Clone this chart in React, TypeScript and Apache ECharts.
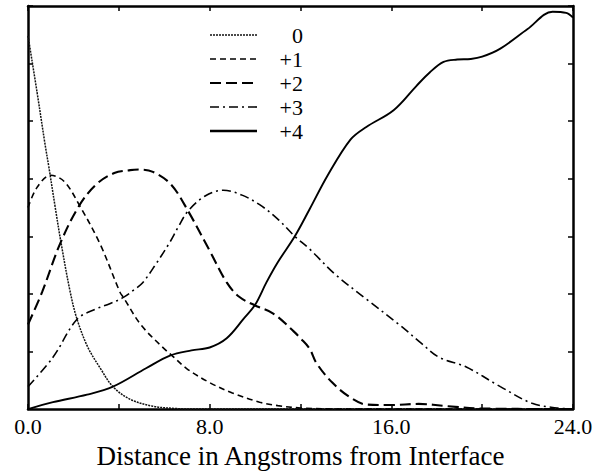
import React, { useEffect, useRef } from "react";
import * as echarts from "echarts";

const seriesNames = ["0", "+1", "+2", "+3", "+4"];

const x0 = [0, 0.4, 0.75, 0.92, 1.2, 1.45, 1.85, 2.16, 2.64, 3.2, 3.74, 4.5, 5.5, 6.5, 7.5, 24];
const y0 = [6.48, 5.5, 4.6, 4.2, 3.5, 2.9, 2.05, 1.56, 1.07, 0.7, 0.39, 0.17, 0.05, 0.01, 0, 0];

const x1 = [0, 0.4, 1.0, 1.6, 2.25, 3.17, 4.05, 4.2, 5.0, 6.1, 6.34, 7.0, 8.0, 9.0, 10.2, 11.0, 12.0, 14, 24];
const y1 = [3.5, 3.85, 4.06, 3.95, 3.55, 2.87, 2.03, 1.94, 1.45, 1.01, 0.93, 0.7, 0.46, 0.28, 0.12, 0.06, 0.02, 0, 0];

const x2 = [0, 0.62, 1.41, 2.25, 3.0, 3.8, 4.5, 4.9, 5.5, 6.3, 7.05, 8.0, 8.75, 9.3, 10.0, 10.8, 11.7, 12.0, 12.4, 12.7, 13.4, 14.2, 14.9, 16.0, 17.2, 18.5, 20, 24];
const y2 = [1.47, 2.03, 2.87, 3.53, 3.9, 4.1, 4.15, 4.16, 4.12, 3.9, 3.44, 2.75, 2.2, 1.95, 1.8, 1.66, 1.35, 1.23, 1.05, 0.8, 0.46, 0.2, 0.08, 0.07, 0.09, 0.05, 0.01, 0];

const x3 = [0, 1.1, 2.16, 3.0, 3.6, 4.2, 4.7, 5.06, 5.6, 6.25, 6.6, 7.05, 7.8, 8.6, 9.4, 10.2, 11.0, 11.75, 12.4, 13.5, 14.9, 16.4, 17.3, 18.1, 19.3, 20.8, 22.2, 23.3, 24];
const y3 = [0.39, 0.9, 1.56, 1.74, 1.83, 1.94, 2.08, 2.2, 2.5, 2.9, 3.15, 3.44, 3.7, 3.8, 3.72, 3.55, 3.3, 3.0, 2.78, 2.35, 1.91, 1.45, 1.15, 0.9, 0.73, 0.39, 0.1, 0.02, 0];

const x4 = [0, 1.1, 2.6, 3.74, 5.2, 6.25, 7.2, 8.0, 8.75, 9.5, 10.0, 10.5, 11.0, 11.75, 12.4, 13.2, 14.2, 14.9, 16.1, 17.1, 17.7, 18.3, 18.9, 19.5, 20.0, 20.8, 22.0, 23.1, 23.7, 24];
const y4 = [0, 0.12, 0.25, 0.39, 0.71, 0.93, 1.02, 1.07, 1.23, 1.57, 1.81, 2.2, 2.55, 3.0, 3.47, 4.06, 4.68, 4.9, 5.19, 5.61, 5.85, 6.03, 6.07, 6.08, 6.12, 6.26, 6.6, 6.9, 6.88, 6.8];

const xTickLabels = ["0.0", "8.0", "16.0", "24.0"];
const xAxisTitle = "Distance in Angstroms from Interface";

const xs = [x0, x1, x2, x3, x4];
const ys = [y0, y1, y2, y3, y4];

const FONT = "'Liberation Serif', 'Times New Roman', serif";

const styles = [
  { width: 1.5, type: [2, 1], color: "#111" },
  { width: 1.6, type: [6, 4], color: "#000" },
  { width: 2.1, type: [11, 5], color: "#000" },
  { width: 1.6, type: [9, 4, 2, 4], color: "#000" },
  { width: 1.9, type: "solid", color: "#000" },
];

export default function App() {
  const ref = useRef<HTMLDivElement>(null);
  useEffect(() => {
    if (!ref.current) return;
    const chart = echarts.init(ref.current, null, { renderer: "svg" });
    const series = seriesNames.map((name, i) => ({
      name,
      type: "line",
      xAxisIndex: 0,
      yAxisIndex: 0,
      symbol: "none",
      smooth: 0.35,
      lineStyle: { width: styles[i].width, type: styles[i].type as any, color: styles[i].color },
      data: xs[i].map((x, j) => [x, ys[i][j]]),
      z: 2,
    }));

    const legendTop = 35;
    const legendStep = 24;
    const graphic: any[] = [];
    seriesNames.forEach((name, i) => {
      const y = legendTop + i * legendStep;
      const st = styles[i];
      graphic.push({
        type: "line",
        shape: { x1: 210, y1: y, x2: 257, y2: y },
        style: {
          stroke: st.color,
          lineWidth: st.width + (i === 4 ? 0.4 : 0),
          lineDash: st.type === "solid" ? null : st.type,
        },
        z: 10,
      });
      graphic.push({
        type: "text",
        x: 303,
        y: y,
        style: {
          text: name,
          fontFamily: FONT,
          fontSize: 22,
          fill: "#000",
          align: "right",
          verticalAlign: "middle",
        },
        z: 10,
      });
    });

    const axisLine = { show: true, onZero: false, lineStyle: { color: "#000", width: 2.5 } };
    const axisTick = { show: true, inside: true, length: 5, lineStyle: { color: "#000", width: 1.5 } };
    chart.setOption({
      animation: false,
      backgroundColor: "#fff",
      textStyle: { fontFamily: FONT },
      grid: { left: 28, right: 29, top: 6, bottom: 54, containLabel: false },
      xAxis: [
        {
          type: "value",
          min: 0,
          max: 24,
          interval: 4,
          position: "bottom",
          axisLine,
          axisTick,
          splitLine: { show: false },
          axisLabel: {
            show: true,
            margin: 6,
            fontFamily: FONT,
            fontSize: 22,
            color: "#000",
            showMinLabel: true,
            showMaxLabel: true,
            formatter: (v: number) => (v % 8 === 0 ? xTickLabels[v / 8] : ""),
          },
          name: xAxisTitle,
          nameLocation: "middle",
          nameGap: 41,
          nameTextStyle: { fontFamily: FONT, fontSize: 27, color: "#000", verticalAlign: "middle" },
        },
        {
          type: "value",
          min: 0,
          max: 24,
          interval: 4,
          position: "top",
          axisLine,
          axisTick,
          splitLine: { show: false },
          axisLabel: { show: false },
        },
      ],
      yAxis: [
        {
          type: "value",
          min: 0,
          max: 7,
          interval: 1,
          position: "left",
          axisLine,
          axisTick,
          splitLine: { show: false },
          axisLabel: { show: false },
        },
        {
          type: "value",
          min: 0,
          max: 7,
          interval: 1,
          position: "right",
          axisLine,
          axisTick,
          splitLine: { show: false },
          axisLabel: { show: false },
        },
      ],
      series,
      graphic,
    });
    return () => chart.dispose();
  }, []);
  return (
    <div
      ref={ref}
      style={{ position: "fixed", left: 0, top: 0, width: 602, height: 474, background: "#fff" }}
    />
  );
}
